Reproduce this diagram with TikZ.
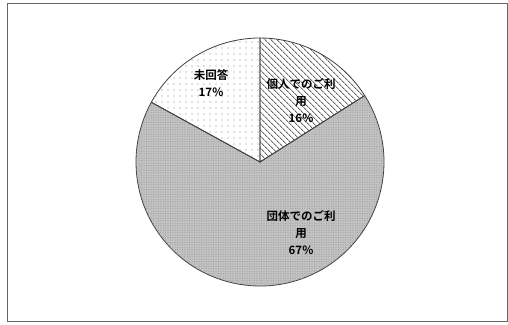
\documentclass[tikz,border=0pt]{standalone}
\usepackage{fontspec}
\newfontfamily\jpfont{Noto Sans CJK JP Bold}
\usetikzlibrary{patterns.meta}
\begin{document}
\begin{tikzpicture}[x=1pt,y=1pt,
  lbl/.style={font=\jpfont\fontsize{11.5}{17}\selectfont, align=center, text=black, inner sep=0pt},
  slice/.style={draw=black!75, line width=0.8pt}]
\useasboundingbox (0,0) rectangle (508,324);
\fill[white] (0,0) rectangle (508,324);
\draw[black!60, line width=0.9pt] (7,3) rectangle (507,321);
\coordinate (c) at (260,162);
% 団体 67%
\path[slice, fill=gray!48] (c) -- ++(32.4:124) arc[start angle=32.4, end angle=-208.8, radius=124] -- cycle;
\path[pattern={Dots[distance=2.4pt, radius=0.45pt]}, pattern color=black!45] (c) -- ++(32.4:124) arc[start angle=32.4, end angle=-208.8, radius=124] -- cycle;
% 個人 16%
\path[pattern={Lines[angle=-45, distance=4pt, line width=0.9pt]}, pattern color=black!60] (c) -- ++(90:124) arc[start angle=90, end angle=32.4, radius=124] -- cycle;
\path[slice] (c) -- ++(90:124) arc[start angle=90, end angle=32.4, radius=124] -- cycle;
% 未回答 17%
\path[pattern={Dots[distance=6pt, radius=0.6pt]}, pattern color=black!50] (c) -- ++(151.2:124) arc[start angle=151.2, end angle=90, radius=124] -- cycle;
\path[slice] (c) -- ++(151.2:124) arc[start angle=151.2, end angle=90, radius=124] -- cycle;
% labels
\node[lbl] (mikaito) at (211,241) {未回答\\17\%};
\node[lbl] (kojin) at (301,223) {個人でのご利\\用\\16\%};
\node[lbl] (dantai) at (301,91) {団体でのご利\\用\\67\%};
\end{tikzpicture}
\end{document}
